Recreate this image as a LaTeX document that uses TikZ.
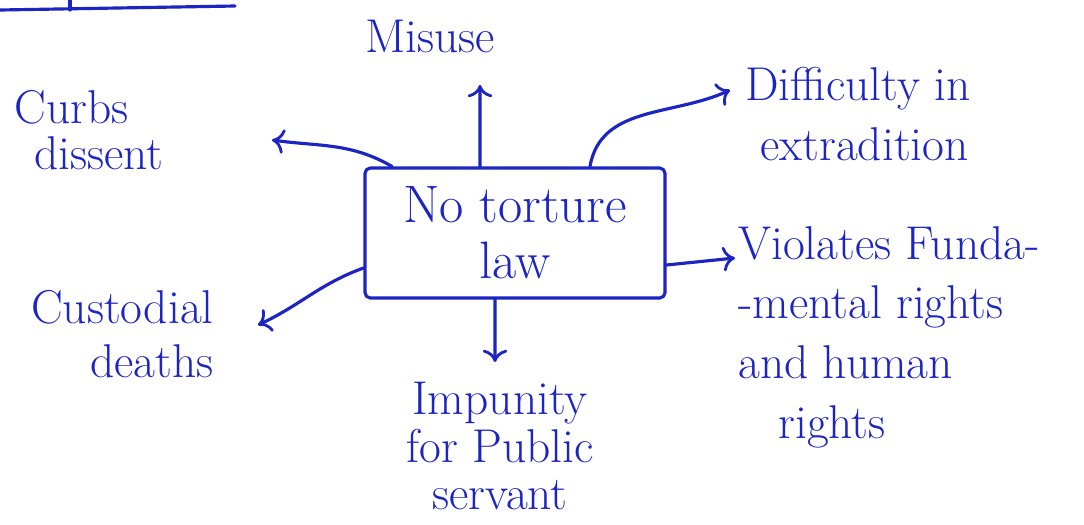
\documentclass[tikz,border=0pt]{standalone}
\usepackage{tikz}
\usetikzlibrary{arrows.meta}
\definecolor{inkblue}{RGB}{28,36,196}

\begin{document}
\begin{tikzpicture}[x=0.02cm,y=-0.02cm,
    ink/.style={inkblue,line width=1.8pt,line cap=round,line join=round},
    arr/.style={ink,-{To[length=7pt,width=14pt,line width=1.6pt]}},
    label/.style={inkblue,inner sep=0pt,font=\fontsize{27}{34}\selectfont},
    lawbox/.style={ink,draw,rounded corners=3pt,minimum width=6cm,minimum height=2.6cm,
      align=center,font=\fontsize{30}{32}\selectfont}]
  \useasboundingbox (0,0) rectangle (1084,524);
  % fragment of a heading underline at the top
  \draw[ink] (0,10) -- (235,6);
  \draw[ink] (70,10) -- (70,0);
  % centre
  \node[lawbox] (law) at (515,233) {No torture\\law};
  % outcomes
  \node[label] (misuse) at (430,36) {Misuse};
  \node[label,align=left,anchor=west,font=\fontsize{27}{26}\selectfont] (curbs) at (14,130) {Curbs\\\hspace{0.4cm}dissent};
  \node[label,align=left,anchor=west] (extra) at (745,114) {Difficulty in\\\hspace{0.3cm}extradition};
  \node[label,align=left,anchor=west] (rights) at (738,337) {Violates Funda-\\-mental rights\\and human\\\hspace{0.8cm}rights};
  \node[label,align=right,anchor=east,font=\fontsize{27}{31}\selectfont] (custody) at (214,334) {Custodial\\deaths};
  \node[label,align=center,font=\fontsize{27}{27}\selectfont] (impunity) at (500,446) {Impunity\\for Public\\servant};
  % connectors
  \coordinate (misuse tip) at (480,85);
  \coordinate (curbs tip) at (272,140);
  \coordinate (extra tip) at (730,90);
  \coordinate (rights tip) at (735,258);
  \coordinate (custody tip) at (258,325);
  \coordinate (impunity tip) at (495,362);
  \draw[arr] ([xshift=-0.7cm]law.north) -- (misuse tip);
  \draw[arr] ([xshift=-2.46cm]law.north) to[out=150,in=-8] (curbs tip);
  \draw[arr] ([xshift=1.5cm]law.north) to[out=80,in=205] (extra tip);
  \draw[arr] ([yshift=-0.64cm]law.east) -- (rights tip);
  \draw[arr] ([yshift=-0.7cm]law.west) to[out=200,in=25] (custody tip);
  \draw[arr] ([xshift=-0.4cm]law.south) -- (impunity tip);
\end{tikzpicture}
\end{document}
